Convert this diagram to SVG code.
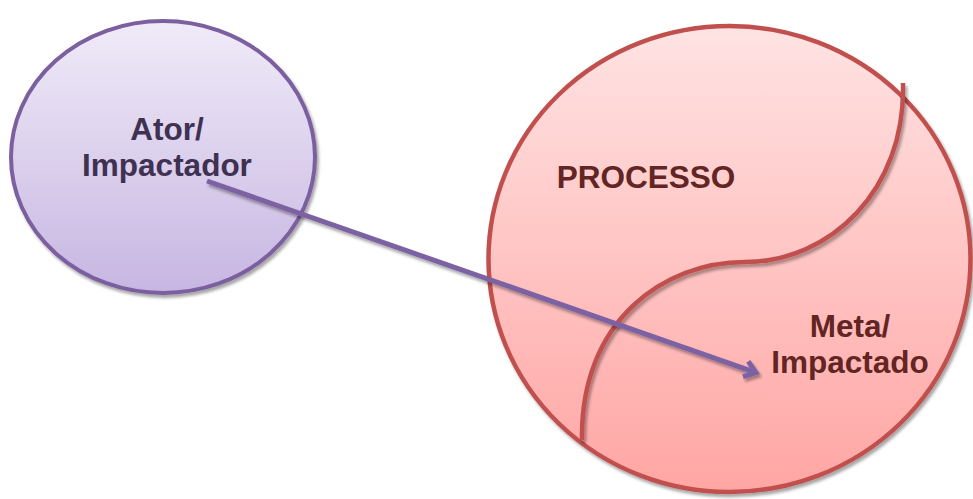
<svg xmlns="http://www.w3.org/2000/svg" width="973" height="499" viewBox="0 0 973 499">
<defs>
<linearGradient id="gPurple" x1="0" y1="0" x2="0" y2="1">
<stop offset="0" stop-color="#F0EBF8"/>
<stop offset="1" stop-color="#C7B6E2"/>
</linearGradient>
<linearGradient id="gRed" x1="0" y1="0" x2="0" y2="1">
<stop offset="0" stop-color="#FFE3E3"/>
<stop offset="1" stop-color="#FFA6A4"/>
</linearGradient>
<filter id="shadow" x="-10%" y="-10%" width="120%" height="120%">
<feDropShadow dx="2" dy="3" stdDeviation="1.5" flood-color="#000" flood-opacity="0.35"/>
</filter>
<marker id="chev" viewBox="0 0 20 20" refX="15" refY="10" markerWidth="20" markerHeight="20" markerUnits="userSpaceOnUse" orient="auto">
<path d="M4,2 L15,10 L4,18" fill="none" stroke="#7B62A3" stroke-width="5" stroke-linejoin="miter" stroke-linecap="butt"/>
</marker>
</defs>
<style>
.lbl{font-family:"Liberation Sans",Arial,sans-serif;font-weight:bold;font-size:31.5px;text-anchor:middle}
.p{fill:#3F3151}
.r{fill:#632523}
</style>
<g id="node-ator">
<ellipse cx="163" cy="157" rx="152" ry="136" fill="url(#gPurple)" stroke="#7B5F9E" stroke-width="4" filter="url(#shadow)"/>
<text class="lbl p" x="167" y="140">Ator/</text>
<text class="lbl p" x="167" y="176">Impactador</text>
</g>
<g id="node-processo">
<ellipse cx="729.5" cy="259" rx="241" ry="233" fill="url(#gRed)" stroke="#C0504D" stroke-width="4.5" filter="url(#shadow)"/>
<path d="M903,83 C906,190 830,262 745,262 C665,262 580,320 582,440" fill="none" stroke="#C0504D" stroke-width="4.5" filter="url(#shadow)"/>
<text class="lbl r" x="646" y="188">PROCESSO</text>
</g>
<g id="node-meta">
<text class="lbl r" x="850" y="337">Meta/</text>
<text class="lbl r" x="850" y="373">Impactado</text>
</g>
<g id="connectors">
<line x1="207" y1="181" x2="756" y2="372.6" stroke="#7B62A3" stroke-width="5" marker-end="url(#chev)" filter="url(#shadow)"/>
</g>
</svg>
